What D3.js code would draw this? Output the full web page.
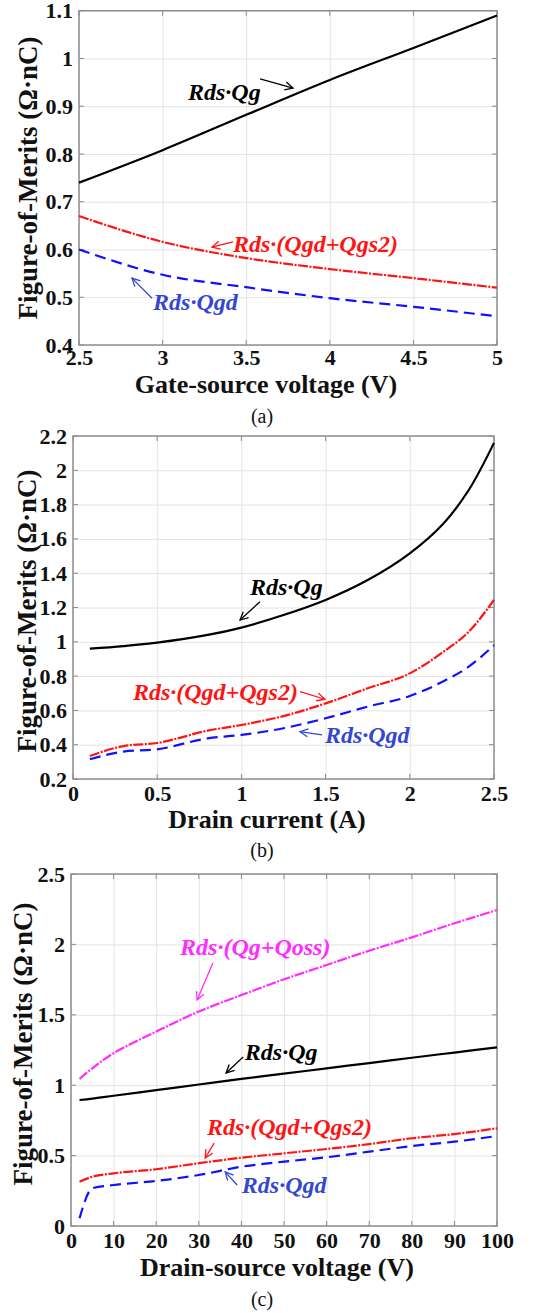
<!DOCTYPE html>
<html lang="en">
<head>
<meta charset="UTF-8">
<title>Figure-of-Merits</title>
<script src="https://d3js.org/d3.v7.min.js"></script>
<style>
  body { margin: 0; background: #fff; }
  svg { display: block; }
  text { font-family: "Liberation Serif", "Times New Roman", serif; }
  .tick text { font-size: 22px; font-weight: bold; fill: #111; }
  .grid line { stroke: #e4e4e4; stroke-width: 1; }
  .grid path { display: none; }
  .lbl path, .lbl line { display: none; }
  .title { font-size: 26px; font-weight: bold; fill: #111; }
  .ytitle { font-size: 27px; font-weight: bold; fill: #111; }
  .cap { font-size: 20px; fill: #111; }
  .note { font-size: 24px; font-weight: bold; font-style: italic; }
</style>
</head>
<body>
<svg width="549" height="1313"></svg>
<script>
// (a) gate-source voltage sweep
var vgs = [2.5, 3, 3.5, 4, 4.5, 5];
var aQg = [0.74, 0.808, 0.882, 0.955, 1.022, 1.09];
var aQgdQgs2 = [0.67, 0.616, 0.582, 0.559, 0.54, 0.52];
var aQgd = [0.6, 0.547, 0.521, 0.498, 0.48, 0.46];
var aXTicks = [2.5, 3, 3.5, 4, 4.5, 5];
var aYTicks = [0.4, 0.5, 0.6, 0.7, 0.8, 0.9, 1, 1.1];

// (b) drain current sweep
var id = [0.1, 0.3, 0.5, 0.8, 1, 1.25, 1.5, 1.75, 2, 2.2, 2.35, 2.5];
var bQg = [0.96, 0.975, 0.995, 1.04, 1.083, 1.156, 1.244, 1.36, 1.516, 1.69, 1.885, 2.16];
var bQgdQgs2 = [0.334, 0.392, 0.41, 0.482, 0.515, 0.567, 0.641, 0.729, 0.816, 0.942, 1.059, 1.244];
var bQgd = [0.315, 0.36, 0.373, 0.437, 0.457, 0.496, 0.554, 0.622, 0.684, 0.77, 0.855, 0.98];
var bXTicks = [0, 0.5, 1, 1.5, 2, 2.5];
var bYTicks = [0.2, 0.4, 0.6, 0.8, 1, 1.2, 1.4, 1.6, 1.8, 2, 2.2];

// (c) drain-source voltage sweep
var vds = [2, 5, 10, 20, 30, 40, 50, 60, 70, 80, 90, 100];
var cQgQoss = [1.044, 1.12, 1.227, 1.381, 1.523, 1.64, 1.752, 1.854, 1.955, 2.05, 2.15, 2.244];
var cQg = [0.895, 0.905, 0.925, 0.965, 1.005, 1.045, 1.082, 1.12, 1.157, 1.195, 1.232, 1.269];
var cQgdQgs2 = [0.315, 0.35, 0.374, 0.403, 0.446, 0.485, 0.516, 0.547, 0.582, 0.623, 0.653, 0.694];
var cQgd = [0.055, 0.268, 0.291, 0.32, 0.362, 0.421, 0.457, 0.488, 0.528, 0.568, 0.599, 0.639];
var cXTicks = [0, 10, 20, 30, 40, 50, 60, 70, 80, 90, 100];
var cYTicks = [0, 0.5, 1, 1.5, 2, 2.5];

var yTitle = "Figure-of-Merits (\u03A9\u00B7nC)";

var sty = {
  qg:   { color: "#000000", dash: null,             text: "#000000", curve: d3.curveCatmullRom },
  mix:  { color: "#ff1414", dash: "10,1.5,2,1.5",   text: "#ff1414", curve: d3.curveMonotoneX },
  qgd:  { color: "#1010ff", dash: "11,6",           text: "#3347d1", curve: d3.curveMonotoneX },
  oss:  { color: "#ff2cff", dash: "10,1.5,2,1.5",   text: "#ff2cff", curve: d3.curveCatmullRom }
};

var panels = [
  { x: vgs, xd: [2.5, 5], yd: [0.4, 1.1], xt: aXTicks, yt: aYTicks,
    box: [79, 497, 10.7, 345], xTitle: "Gate-source voltage (V)", cap: "(a)",
    tx: 266, tb: 393, cb: 423, ytx: 28, yty: 178, tickY: 365,
    series: [["qg", aQg], ["mix", aQgdQgs2], ["qgd", aQgd]],
    notes: [
      ["qg", "Rds\u00B7Qg", 3.152, 0.913, [3.583, 0.957, 3.78, 0.938]],
      ["mix", "Rds\u00B7(Qgd+Qgs2)", 3.421, 0.595, [3.421, 0.616, 3.295, 0.605]],
      ["qgd", "Rds\u00B7Qgd", 2.943, 0.473, [2.937, 0.498, 2.817, 0.54]]
    ] },
  { x: id, xd: [0, 2.5], yd: [0.2, 2.2], xt: bXTicks, yt: bYTicks,
    box: [73, 494, 436, 779], xTitle: "Drain current (A)", cap: "(b)",
    tx: 267, tb: 828, cb: 857, ytx: 27, yty: 611, tickY: 801,
    series: [["qg", bQg], ["mix", bQgdQgs2], ["qgd", bQgd]],
    notes: [
      ["qg", "Rds\u00B7Qg", 1.051, 1.273, [1.11, 1.234, 0.992, 1.127]],
      ["mix", "Rds\u00B7(Qgd+Qgs2)", 0.356, 0.661, [1.348, 0.709, 1.496, 0.665]],
      ["qgd", "Rds\u00B7Qgd", 1.496, 0.41, [1.479, 0.457, 1.348, 0.476]]
    ] },
  { x: vds, xd: [0, 100], yd: [0, 2.5], xt: cXTicks, yt: cYTicks,
    box: [71, 497, 874, 1226], xTitle: "Drain-source voltage (V)", cap: "(c)",
    tx: 277, tb: 1276, cb: 1306, ytx: 23, yty: 1044, tickY: 1248,
    series: [["oss", cQgQoss], ["qg", cQg], ["mix", cQgdQgs2], ["qgd", cQgd]],
    notes: [
      ["oss", "Rds\u00B7(Qg+Qoss)", 25.6, 1.925, [33.3, 1.868, 29.6, 1.605]],
      ["qg", "Rds\u00B7Qg", 40.8, 1.179, [40.4, 1.2, 36.4, 1.087]],
      ["mix", "Rds\u00B7(Qgd+Qgs2)", 31.9, 0.646, [33.6, 0.589, 31.5, 0.483]],
      ["qgd", "Rds\u00B7Qgd", 40.1, 0.234, [39.0, 0.291, 36.2, 0.384]]
    ] }
];

var svg = d3.select("svg");
var defs = svg.append("defs");
Object.keys(sty).forEach(function (k) {
  defs.append("marker").attr("id", "arr-" + k)
    .attr("viewBox", "0 0 10 10").attr("refX", 9).attr("refY", 5)
    .attr("markerWidth", 10).attr("markerHeight", 10)
    .attr("markerUnits", "userSpaceOnUse").attr("orient", "auto")
    .append("path").attr("d", "M1,1 L9,5 L1,9")
    .attr("fill", "none").attr("stroke", sty[k].text).attr("stroke-width", 1.3);
});

var fmt = function (d) { return String(+d.toFixed(2)); };

panels.forEach(function (p) {
  var L = p.box[0], R = p.box[1], T = p.box[2], B = p.box[3];
  var x = d3.scaleLinear().domain(p.xd).range([L, R]);
  var y = d3.scaleLinear().domain(p.yd).range([B, T]);
  var g = svg.append("g");

  // grid
  g.append("g").attr("class", "grid").attr("transform", "translate(0," + B + ")")
    .call(d3.axisBottom(x).tickValues(p.xt).tickSize(-(B - T)).tickFormat(""));
  g.append("g").attr("class", "grid").attr("transform", "translate(" + L + ",0)")
    .call(d3.axisLeft(y).tickValues(p.yt).tickSize(-(R - L)).tickFormat(""));

  // small inward tick marks on all sides
  var tk = g.append("g").attr("stroke", "#8a8a8a").attr("stroke-width", 1);
  p.xt.forEach(function (v) {
    tk.append("line").attr("x1", x(v)).attr("x2", x(v)).attr("y1", B).attr("y2", B - 5);
    tk.append("line").attr("x1", x(v)).attr("x2", x(v)).attr("y1", T).attr("y2", T + 5);
  });
  p.yt.forEach(function (v) {
    tk.append("line").attr("x1", L).attr("x2", L + 5).attr("y1", y(v)).attr("y2", y(v));
    tk.append("line").attr("x1", R).attr("x2", R - 5).attr("y1", y(v)).attr("y2", y(v));
  });

  g.append("rect").attr("x", L).attr("y", T).attr("width", R - L).attr("height", B - T)
    .attr("fill", "none").attr("stroke", "#8f8f8f").attr("stroke-width", 1.5);

  // tick labels
  g.append("g").attr("class", "lbl").attr("transform", "translate(0," + (p.tickY - 16) + ")")
    .call(d3.axisBottom(x).tickValues(p.xt).tickSize(0).tickPadding(0).tickFormat(fmt));
  g.append("g").attr("class", "lbl").attr("transform", "translate(" + (L - 2) + ",0)")
    .call(d3.axisLeft(y).tickValues(p.yt).tickSize(0).tickPadding(4).tickFormat(fmt));

  // curves
  p.series.forEach(function (s) {
    var st = sty[s[0]];
    var pts = p.x.map(function (v, i) { return [v, s[1][i]]; });
    g.append("path").datum(pts)
      .attr("fill", "none").attr("stroke", st.color).attr("stroke-width", 2.2)
      .attr("stroke-dasharray", st.dash)
      .attr("d", d3.line().x(function (d) { return x(d[0]); })
        .y(function (d) { return y(d[1]); }).curve(st.curve));
  });

  // annotations
  p.notes.forEach(function (n) {
    var st = sty[n[0]];
    g.append("text").attr("class", "note").attr("x", x(n[2])).attr("y", y(n[3]))
      .attr("fill", st.text).text(n[1]);
    var a = n[4];
    g.append("line").attr("x1", x(a[0])).attr("y1", y(a[1]))
      .attr("x2", x(a[2])).attr("y2", y(a[3]))
      .attr("stroke", st.text).attr("stroke-width", 1.3)
      .attr("marker-end", "url(#arr-" + n[0] + ")");
  });

  // titles
  g.append("text").attr("class", "title").attr("x", p.tx).attr("y", p.tb)
    .attr("text-anchor", "middle").text(p.xTitle);
  g.append("text").attr("class", "ytitle")
    .attr("transform", "translate(" + (p.ytx + 9) + "," + p.yty + ") rotate(-90)")
    .attr("text-anchor", "middle").text(yTitle);
  g.append("text").attr("class", "cap").attr("x", 262).attr("y", p.cb)
    .attr("text-anchor", "middle").text(p.cap);
});
</script>
</body>
</html>
